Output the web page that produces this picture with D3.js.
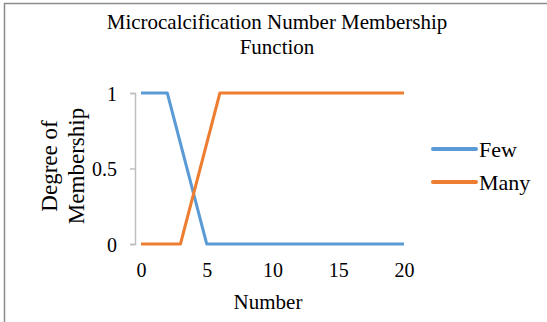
<!DOCTYPE html>
<html><head><meta charset="utf-8">
<script src="https://cdn.jsdelivr.net/npm/d3@7"></script>
<style>body{margin:0;background:#fff}svg{display:block}text{font-family:"Liberation Serif","Times New Roman",serif;fill:#000}</style>
</head><body>
<script>
const fewX = [0, 2, 5, 20];
const fewY = [1, 1, 0, 0];
const manyX = [0, 3, 6, 20];
const manyY = [0, 0, 1, 1];
const xTicks = [0, 5, 10, 15, 20];
const yTicks = [0, 0.5, 1];
const seriesNames = ["Few", "Many"];
const colors = ["#5B9BD5", "#ED7D31"];

const W = 547, H = 322;
const svg = d3.select("body").append("svg").attr("width", W).attr("height", H);
// border
svg.append("path").attr("d", "M4.5,322V3.5H547").attr("fill", "none").attr("stroke", "#8c8c8c").attr("stroke-width", 1.5);

const x = d3.scaleLinear().domain([0, 20]).range([141, 404]);
const y = d3.scaleLinear().domain([0, 1]).range([244, 93]);

// title
const title = svg.append("text").attr("text-anchor", "middle").attr("font-size", 21);
title.append("tspan").attr("x", 277).attr("y", 29).text("Microcalcification Number Membership");
title.append("tspan").attr("x", 277).attr("y", 54).text("Function");

// y axis
const ya = svg.append("g").attr("transform", "translate(135,0)")
  .call(d3.axisLeft(y).tickValues(yTicks).tickFormat(d => d === 0.5 ? "0.5" : d).tickSize(5).tickPadding(13));
ya.select(".domain").attr("stroke", "#bfbfbf").attr("stroke-width", 1.5);
ya.selectAll(".tick line").attr("stroke", "#bfbfbf").attr("stroke-width", 1.5);
ya.selectAll(".tick text").attr("font-size", 20).attr("font-family", '"Liberation Serif",serif').attr("dy", "0.35em");

// x axis (labels only)
const xa = svg.append("g").attr("transform", "translate(0,244)")
  .call(d3.axisBottom(x).tickValues(xTicks).tickSize(0).tickPadding(19));
xa.select(".domain").remove();
xa.selectAll(".tick text").attr("font-size", 20).attr("font-family", '"Liberation Serif",serif');

// axis titles
svg.append("text").attr("x", 268).attr("y", 309).attr("text-anchor", "middle").attr("font-size", 21).text("Number");
const yt = svg.append("text").attr("transform", "translate(57,166) rotate(-90)").attr("text-anchor", "middle").attr("font-size", 23);
yt.append("tspan").attr("x", 0).attr("y", 0).text("Degree of");
yt.append("tspan").attr("x", 0).attr("y", 27).text("Membership");

// lines
const line = d3.line().x(d => x(d[0])).y(d => y(d[1]));
const series = [d3.zip(fewX, fewY), d3.zip(manyX, manyY)];
series.forEach((s, i) => {
  svg.append("path").datum(s).attr("d", line).attr("fill", "none")
    .attr("stroke", colors[i]).attr("stroke-width", 3).attr("stroke-linejoin", "round");
});

// legend
const legY = [149, 182];
seriesNames.forEach((n, i) => {
  svg.append("line").attr("x1", 433).attr("x2", 476).attr("y1", legY[i]).attr("y2", legY[i])
    .attr("stroke", colors[i]).attr("stroke-width", 4).attr("stroke-linecap", "round");
  svg.append("text").attr("x", 479).attr("y", legY[i]).attr("dy", "0.35em").attr("font-size", 22).text(n);
});
</script>
</body></html>
